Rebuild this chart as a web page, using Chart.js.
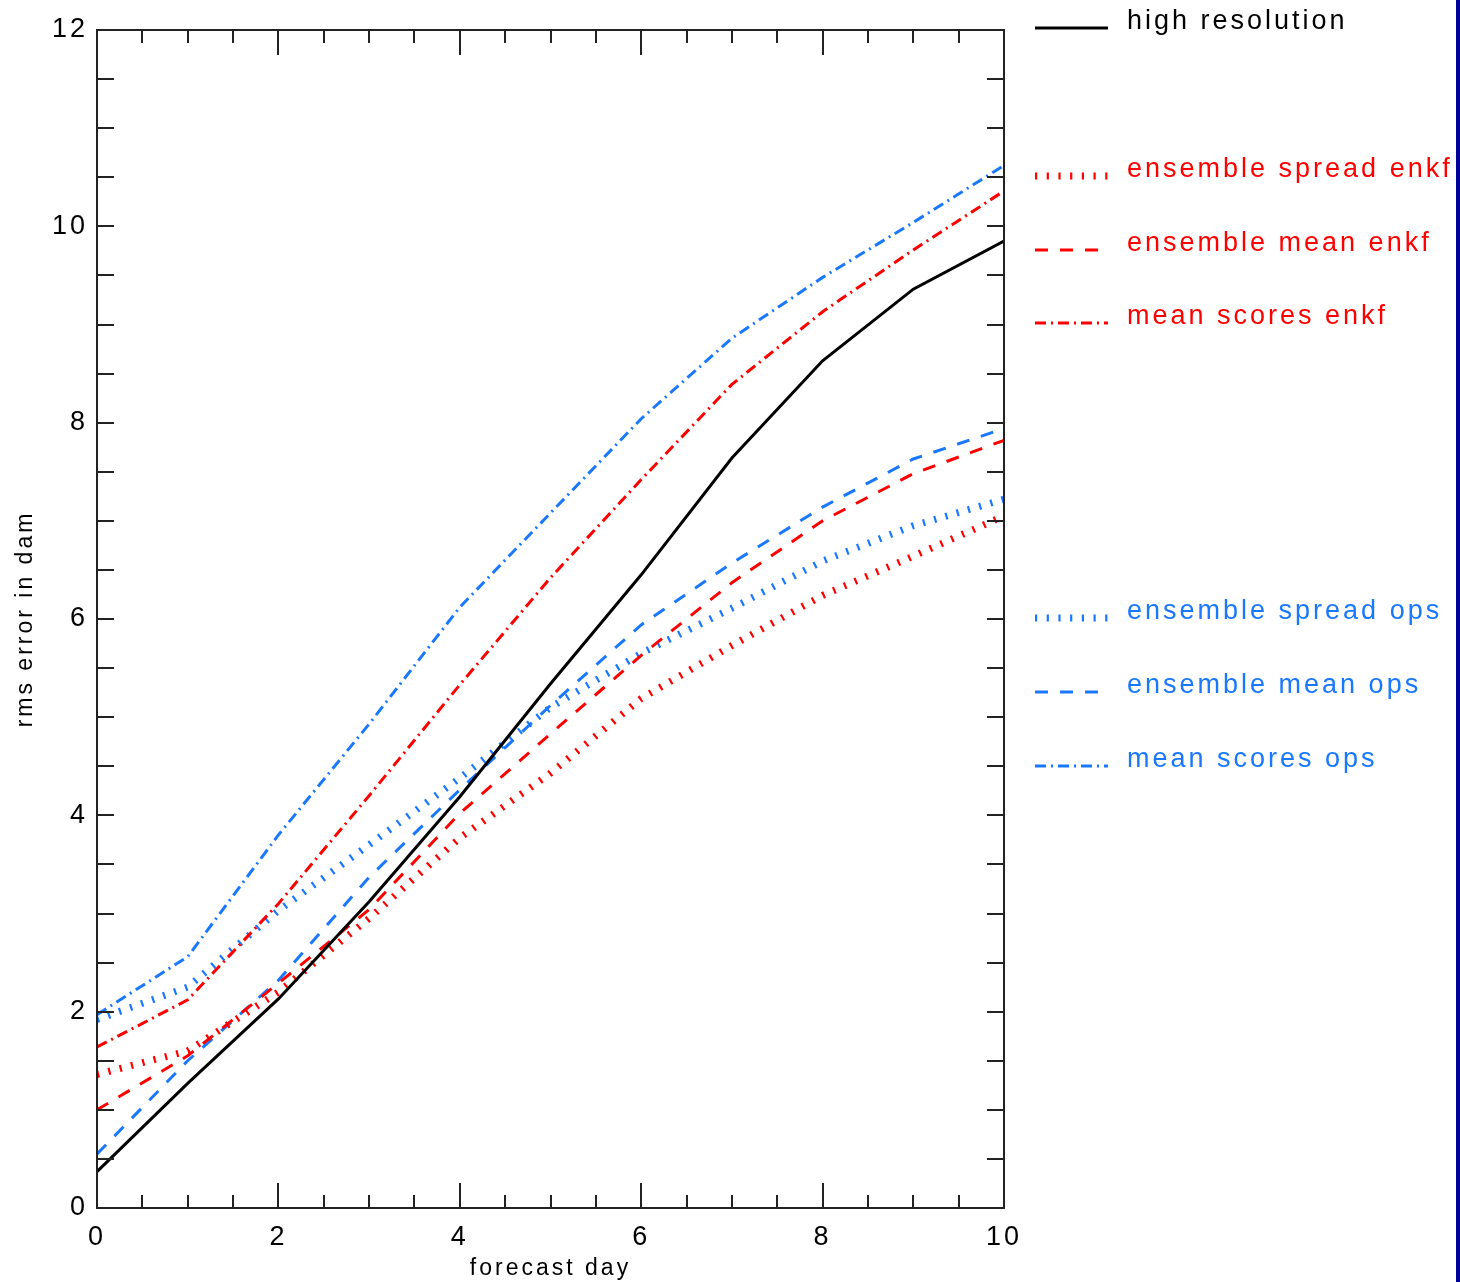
<!DOCTYPE html>
<html>
<head>
<meta charset="utf-8">
<script src="https://cdn.jsdelivr.net/npm/chart.js@4.4.1/dist/chart.umd.min.js"></script>
<style>
  body { margin: 0; background: #fff; }
  #wrap { position: relative; width: 1460px; height: 1282px; }
  #edge { position: absolute; left: 1456px; top: 0; width: 4px; height: 1282px; background: #00009a; }
</style>
</head>
<body>
<div id="wrap">
  <canvas id="rms_chart" width="1460" height="1282"></canvas>
  <div id="edge"></div>
</div>
<script>
// forecast days and rms errors (dam)
const days = [0, 1, 2, 3, 4, 5, 6, 7, 8, 9, 10];
const highRes    = [0.37, 1.27, 2.13, 3.12, 4.19, 5.34, 6.45, 7.64, 8.63, 9.36, 9.85];
const spreadEnkf = [1.36, 1.60, 2.20, 2.95, 3.77, 4.43, 5.19, 5.73, 6.24, 6.64, 7.05];
const meanEnkf   = [1.00, 1.55, 2.29, 3.04, 4.02, 4.83, 5.63, 6.37, 7.00, 7.48, 7.82];
const scoresEnkf = [1.64, 2.12, 3.10, 4.20, 5.33, 6.42, 7.42, 8.39, 9.13, 9.76, 10.36];
const spreadOps  = [1.92, 2.25, 3.03, 3.70, 4.38, 5.10, 5.65, 6.11, 6.59, 6.95, 7.22];
const meanOps    = [0.55, 1.50, 2.32, 3.37, 4.26, 5.12, 5.94, 6.57, 7.14, 7.63, 7.94];
const scoresOps  = [1.97, 2.56, 3.80, 4.93, 6.12, 7.08, 8.04, 8.86, 9.48, 10.04, 10.62];
const xTicks = [0, 2, 4, 6, 8, 10];
const yTicks = [0, 2, 4, 6, 8, 10, 12];

const RED = '#ff0000';
const BLUE = '#1a78ff';
const DOT = [2.2, 9.5];
const DASH = [13, 12];
const DASHDOT = [11, 5, 2, 5];

function pts(vals) {
  return days.map((d, i) => ({ x: d, y: vals[i] }));
}

// y of each legend row (text middle)
const legendRows = [22, 170, 244, 317, 612, 686, 760];

// canvas resets its state on resize, so the spacing goes on before each draw
const spacing = {
  id: 'spacing',
  beforeDraw(chart) { chart.ctx.letterSpacing = '3px'; }
};

const frameTicks = {
  id: 'frameTicks',
  afterDatasetsDraw(chart) {
    const { ctx, chartArea: a, scales: { x, y } } = chart;
    ctx.save();
    ctx.strokeStyle = '#222';
    ctx.lineWidth = 2;
    ctx.setLineDash([]);
    ctx.strokeRect(a.left, a.top, a.right - a.left, a.bottom - a.top);
    ctx.beginPath();
    for (let v = 0; v <= 10; v += 0.5) {
      const px = Math.round(x.getPixelForValue(v));
      const len = v % 2 === 0 ? 25 : 13;
      ctx.moveTo(px, a.bottom); ctx.lineTo(px, a.bottom - len);
      ctx.moveTo(px, a.top); ctx.lineTo(px, a.top + len);
    }
    for (let v = 0; v <= 12; v += 0.5) {
      const py = Math.round(y.getPixelForValue(v));
      ctx.moveTo(a.left, py); ctx.lineTo(a.left + 17, py);
      ctx.moveTo(a.right, py); ctx.lineTo(a.right - 17, py);
    }
    ctx.stroke();
    ctx.restore();
  }
};

const sideLegend = {
  id: 'sideLegend',
  afterDraw(chart) {
    const ctx = chart.ctx;
    ctx.save();
    ctx.font = '27px "Liberation Sans"';
    ctx.letterSpacing = '3px';
    ctx.textBaseline = 'middle';
    ctx.textAlign = 'left';
    chart.data.datasets.forEach((ds, i) => {
      const yy = legendRows[i];
      ctx.strokeStyle = ds.borderColor;
      ctx.lineWidth = ds.borderWidth;
      ctx.lineCap = 'butt';
      ctx.setLineDash(ds.borderDash || []);
      ctx.beginPath();
      ctx.moveTo(1035, yy + 6);
      ctx.lineTo(1108, yy + 6);
      ctx.stroke();
      ctx.fillStyle = ds.borderColor;
      ctx.fillText(ds.label, 1127, yy);
    });
    ctx.restore();
  }
};

const ctx = document.getElementById('rms_chart');

const tickFont = { family: 'Liberation Sans', size: 27 };
const titleFont = { family: 'Liberation Sans', size: 23 };

new Chart(ctx, {
  type: 'line',
  data: {
    datasets: [
      { label: 'high resolution', data: pts(highRes), borderColor: '#000', borderWidth: 3 },
      { label: 'ensemble spread enkf', data: pts(spreadEnkf), borderColor: RED, borderWidth: 7, borderDash: DOT },
      { label: 'ensemble mean enkf', data: pts(meanEnkf), borderColor: RED, borderWidth: 3, borderDash: DASH },
      { label: 'mean scores enkf', data: pts(scoresEnkf), borderColor: RED, borderWidth: 3, borderDash: DASHDOT },
      { label: 'ensemble spread ops', data: pts(spreadOps), borderColor: BLUE, borderWidth: 7, borderDash: DOT },
      { label: 'ensemble mean ops', data: pts(meanOps), borderColor: BLUE, borderWidth: 3, borderDash: DASH },
      { label: 'mean scores ops', data: pts(scoresOps), borderColor: BLUE, borderWidth: 3, borderDash: DASHDOT }
    ]
  },
  options: {
    responsive: false,
    animation: false,
    devicePixelRatio: 1,
    elements: {
      point: { radius: 0 },
      line: { tension: 0, fill: false, borderCapStyle: 'butt' }
    },
    layout: { padding: { top: 30, right: 456, bottom: 0, left: 0 } },
    plugins: {
      legend: { display: false },
      tooltip: { enabled: false }
    },
    scales: {
      x: {
        type: 'linear',
        min: 0,
        max: 10,
        afterBuildTicks(scale) { scale.ticks = xTicks.map(v => ({ value: v })); },
        ticks: { color: '#000', font: tickFont, padding: 13, maxRotation: 0 },
        grid: { display: false, drawTicks: false },
        border: { display: false },
        title: { display: true, text: 'forecast day', color: '#000', font: titleFont, padding: { top: 0, bottom: 0 } },
        afterFit(scale) { scale.height = 74; }
      },
      y: {
        min: 0,
        max: 12,
        afterBuildTicks(scale) { scale.ticks = yTicks.map(v => ({ value: v })); },
        ticks: { color: '#000', font: tickFont, padding: 9 },
        grid: { display: false, drawTicks: false },
        border: { display: false },
        title: { display: true, text: 'rms error in dam', color: '#000', font: titleFont, padding: { top: 12, bottom: 0 } },
        afterFit(scale) { scale.width = 97; }
      }
    }
  },
  plugins: [spacing, frameTicks, sideLegend]
});
</script>
</body>
</html>
